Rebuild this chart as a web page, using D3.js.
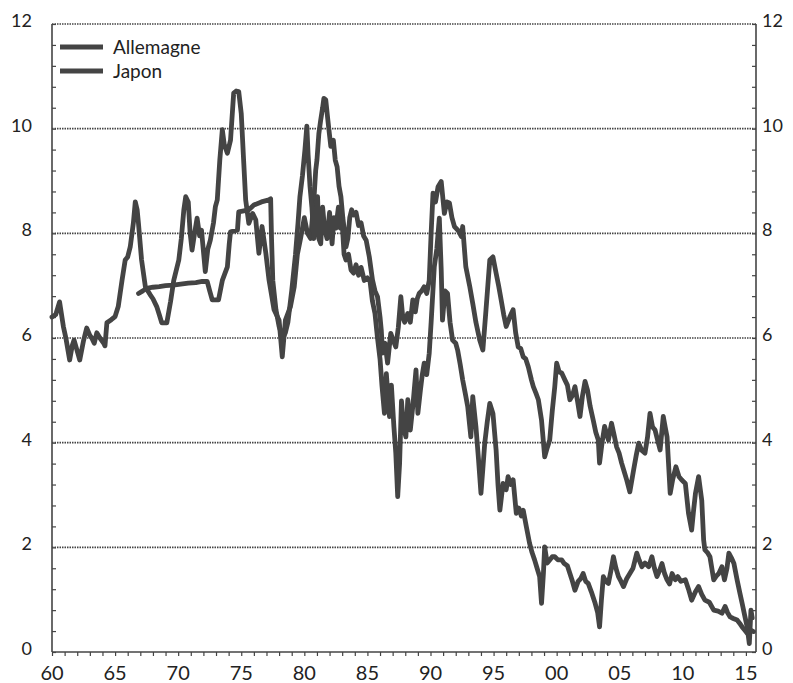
<!DOCTYPE html>
<html><head><meta charset="utf-8">
<script src="https://cdn.jsdelivr.net/npm/d3@7"></script>
<style>
html,body{margin:0;padding:0;background:#fff;}
svg text{font-family:'Liberation Sans Narrow','Arial Narrow',Lato,sans-serif;fill:#222;}
</style></head>
<body>
<svg id="chart" width="793" height="683"></svg>
<script>
// Series: [year, yield %]
const seriesNames = ["Allemagne", "Japon"];
const allemagne = [
[1960.0,6.40],[1960.3,6.45],[1960.6,6.69],[1960.9,6.22],[1961.1,6.0],[1961.4,5.58],[1961.6,5.85],[1961.75,5.96],
[1962.0,5.75],[1962.2,5.58],[1962.5,5.95],[1962.75,6.19],[1963.0,6.05],[1963.15,6.0],[1963.35,5.9],[1963.55,6.1],
[1963.8,6.0],[1964.1,5.9],[1964.2,5.85],[1964.35,6.29],[1964.7,6.35],[1965.0,6.41],[1965.25,6.6],[1965.55,7.1],
[1965.8,7.49],[1966.0,7.55],[1966.2,7.74],[1966.45,8.2],[1966.6,8.6],[1966.75,8.45],[1966.85,8.2],[1967.1,7.49],
[1967.4,6.98],[1967.6,6.9],[1967.8,6.82],[1968.0,6.75],[1968.3,6.6],[1968.5,6.45],[1968.7,6.29],[1969.1,6.29],
[1969.4,6.7],[1969.65,7.1],[1970.05,7.49],[1970.25,7.9],[1970.45,8.45],[1970.6,8.7],[1970.8,8.6],[1970.95,8.0],
[1971.1,7.68],[1971.3,8.0],[1971.5,8.29],[1971.7,7.95],[1971.85,8.06],[1972.15,7.27],[1972.35,7.7],[1972.55,7.87],
[1972.8,8.2],[1972.95,8.51],[1973.1,8.64],[1973.3,9.4],[1973.5,9.98],[1973.65,9.7],[1973.9,9.53],[1974.15,9.78],
[1974.4,10.68],[1974.6,10.72],[1974.8,10.71],[1975.0,10.29],[1975.2,9.34],[1975.35,8.64],[1975.6,8.19],[1975.9,8.38],
[1976.15,8.26],[1976.4,7.62],[1976.65,8.13],[1976.95,7.62],[1977.2,7.11],[1977.6,6.54],[1978.0,6.34],[1978.25,5.64],
[1978.5,6.34],[1978.9,6.6],[1979.2,6.98],[1979.45,7.6],[1979.7,7.9],[1980.0,8.3],[1980.25,8.0],[1980.5,7.9],
[1980.75,8.6],[1980.9,9.2],[1981.0,9.4],[1981.15,9.9],[1981.3,10.17],[1981.45,10.4],[1981.55,10.58],[1981.7,10.55],
[1981.85,10.2],[1981.95,9.98],[1982.1,9.66],[1982.3,9.78],[1982.45,9.4],[1982.6,9.27],[1982.75,8.9],[1982.9,8.7],
[1983.05,8.3],[1983.15,8.1],[1983.3,7.74],[1983.45,7.9],[1983.6,8.3],[1983.75,8.45],[1983.9,8.35],[1984.1,8.4],
[1984.3,8.15],[1984.5,8.2],[1984.7,7.95],[1984.9,7.87],[1985.15,7.55],[1985.4,7.11],[1985.6,6.9],[1985.8,6.79],
[1986.0,6.4],[1986.1,6.15],[1986.2,5.71],[1986.4,5.9],[1986.6,5.52],[1986.85,6.09],[1987.05,5.95],[1987.25,5.83],
[1987.45,6.2],[1987.65,6.79],[1987.8,6.4],[1987.95,6.3],[1988.2,6.47],[1988.4,6.3],[1988.6,6.73],[1988.8,6.5],
[1988.95,6.75],[1989.1,6.85],[1989.3,6.9],[1989.5,6.98],[1989.7,6.85],[1989.9,7.1],[1990.05,8.0],[1990.2,8.77],
[1990.4,8.6],[1990.6,8.89],[1990.85,8.99],[1991.1,8.38],[1991.3,8.6],[1991.5,8.58],[1991.7,8.3],[1991.9,8.13],
[1992.2,8.05],[1992.45,7.94],[1992.55,8.13],[1992.8,7.36],[1993.1,7.0],[1993.35,6.66],[1993.6,6.3],[1993.9,5.96],
[1994.15,5.77],[1994.4,6.54],[1994.7,7.49],[1994.95,7.55],[1995.2,7.24],[1995.4,7.0],[1995.6,6.73],[1995.8,6.45],
[1996.0,6.22],[1996.3,6.41],[1996.55,6.54],[1996.75,6.1],[1996.95,5.83],[1997.15,5.8],[1997.35,5.64],[1997.55,5.6],
[1997.75,5.45],[1998.0,5.2],[1998.15,5.07],[1998.35,4.95],[1998.55,4.82],[1998.8,4.43],[1999.05,3.73],[1999.25,3.9],
[1999.45,4.05],[1999.65,4.6],[1999.85,5.07],[2000.0,5.52],[2000.2,5.35],[2000.4,5.33],[2000.65,5.2],[2000.85,5.1],
[2001.05,4.82],[2001.25,4.9],[2001.45,5.07],[2001.65,4.8],[2001.85,4.5],[2002.05,4.9],[2002.25,5.17],[2002.45,5.0],
[2002.65,4.7],[2002.9,4.43],[2003.1,4.2],[2003.3,4.05],[2003.4,3.61],[2003.6,4.0],[2003.8,4.31],[2004.1,4.05],
[2004.35,4.37],[2004.55,4.15],[2004.75,3.92],[2004.95,3.8],[2005.15,3.61],[2005.35,3.45],[2005.55,3.29],[2005.8,3.06],
[2006.1,3.48],[2006.3,3.75],[2006.5,3.99],[2006.75,3.85],[2007.0,3.8],[2007.2,4.1],[2007.4,4.56],[2007.6,4.3],
[2007.8,4.24],[2008.0,4.05],[2008.2,3.86],[2008.45,4.5],[2008.6,4.3],[2008.75,4.11],[2009.0,3.03],[2009.2,3.3],
[2009.45,3.54],[2009.7,3.35],[2009.9,3.29],[2010.2,3.22],[2010.45,2.65],[2010.7,2.33],[2010.85,2.7],[2011.0,3.03],
[2011.25,3.35],[2011.5,2.9],[2011.65,2.14],[2011.75,1.95],[2011.95,1.9],[2012.15,1.82],[2012.3,1.6],[2012.45,1.38],
[2012.65,1.45],[2012.85,1.5],[2013.1,1.63],[2013.3,1.38],[2013.5,1.6],[2013.65,1.89],[2013.85,1.8],[2014.05,1.69],
[2014.3,1.38],[2014.5,1.15],[2014.7,0.93],[2014.9,0.7],[2015.1,0.48],[2015.27,0.16],[2015.4,0.8],[2015.5,0.65]
];
const japon = [
[1966.86,6.85],[1967.2,6.9],[1967.5,6.95],[1968.0,6.97],[1968.5,6.98],[1969.0,7.0],[1969.6,7.01],[1970.2,7.03],
[1970.8,7.05],[1971.4,7.06],[1971.9,7.08],[1972.3,7.08],[1972.5,6.9],[1972.7,6.73],[1973.2,6.73],[1973.5,7.1],
[1973.9,7.36],[1974.05,7.8],[1974.15,8.03],[1974.7,8.06],[1974.8,8.41],[1975.6,8.45],[1976.0,8.54],[1976.6,8.6],
[1977.2,8.64],[1977.33,8.66],[1977.4,7.9],[1977.5,7.1],[1977.75,6.54],[1978.0,6.22],[1978.3,6.0],[1978.5,6.1],
[1978.7,6.3],[1979.0,6.9],[1979.3,7.6],[1979.5,8.2],[1979.65,8.7],[1979.85,9.1],[1980.05,9.6],[1980.2,10.05],
[1980.3,9.5],[1980.45,8.9],[1980.6,8.5],[1980.75,7.9],[1980.9,8.3],[1981.05,8.7],[1981.15,7.9],[1981.3,7.8],
[1981.45,8.5],[1981.6,8.1],[1981.8,7.9],[1982.0,8.4],[1982.2,7.8],[1982.35,8.3],[1982.5,8.1],[1982.7,8.5],
[1982.85,8.1],[1983.0,8.2],[1983.15,7.6],[1983.3,7.49],[1983.5,7.6],[1983.7,7.3],[1983.9,7.24],[1984.1,7.4],
[1984.3,7.2],[1984.5,7.35],[1984.75,7.1],[1985.0,7.15],[1985.2,7.1],[1985.4,6.7],[1985.6,6.47],[1985.8,6.0],
[1986.0,5.6],[1986.15,5.1],[1986.35,4.56],[1986.5,5.32],[1986.75,4.5],[1986.9,5.1],[1987.1,4.3],[1987.25,3.8],
[1987.4,2.97],[1987.55,3.6],[1987.7,4.8],[1987.85,4.3],[1988.05,4.11],[1988.2,4.82],[1988.4,4.24],[1988.6,4.7],
[1988.85,5.39],[1989.0,4.56],[1989.2,5.0],[1989.35,5.3],[1989.5,5.52],[1989.7,5.3],[1989.9,5.71],[1990.05,6.3],
[1990.3,7.36],[1990.5,7.7],[1990.7,8.29],[1990.85,7.3],[1990.95,6.34],[1991.15,6.9],[1991.35,6.85],[1991.55,6.3],
[1991.75,5.96],[1992.0,5.9],[1992.15,5.77],[1992.35,5.5],[1992.55,5.2],[1992.75,4.95],[1992.95,4.69],[1993.2,4.11],
[1993.35,4.88],[1993.6,4.31],[1993.8,3.7],[1994.0,3.03],[1994.15,3.5],[1994.3,3.99],[1994.5,4.4],[1994.7,4.75],
[1994.95,4.56],[1995.2,3.86],[1995.35,3.2],[1995.5,2.71],[1995.75,3.22],[1996.0,3.1],[1996.15,3.35],[1996.35,3.2],
[1996.55,3.29],[1996.8,2.65],[1997.0,2.75],[1997.2,2.6],[1997.35,2.71],[1997.6,2.39],[1997.85,2.08],[1998.05,1.9],
[1998.25,1.76],[1998.45,1.6],[1998.65,1.44],[1998.8,0.93],[1998.95,1.5],[1999.05,2.01],[1999.25,1.7],[1999.45,1.76],
[1999.65,1.82],[1999.85,1.82],[2000.1,1.76],[2000.4,1.76],[2000.6,1.69],[2000.85,1.65],[2001.05,1.5],[2001.25,1.35],
[2001.45,1.18],[2001.7,1.35],[2001.9,1.4],[2002.1,1.5],[2002.3,1.35],[2002.5,1.31],[2002.75,1.15],[2003.05,0.93],
[2003.25,0.75],[2003.4,0.48],[2003.55,1.0],[2003.7,1.44],[2003.9,1.35],[2004.1,1.31],[2004.3,1.55],[2004.5,1.82],
[2004.7,1.6],[2004.9,1.44],[2005.1,1.35],[2005.3,1.25],[2005.55,1.4],[2005.8,1.5],[2006.05,1.6],[2006.35,1.89],
[2006.55,1.75],[2006.75,1.63],[2007.0,1.7],[2007.3,1.63],[2007.55,1.82],[2007.75,1.6],[2007.95,1.44],[2008.15,1.55],
[2008.35,1.69],[2008.55,1.5],[2008.75,1.38],[2008.95,1.3],[2009.15,1.5],[2009.4,1.38],[2009.6,1.44],[2009.85,1.35],
[2010.2,1.38],[2010.45,1.2],[2010.7,0.99],[2011.0,1.15],[2011.25,1.25],[2011.5,1.1],[2011.75,0.99],[2012.1,0.95],
[2012.45,0.8],[2012.8,0.78],[2013.1,0.74],[2013.35,0.87],[2013.55,0.75],[2013.75,0.67],[2014.0,0.64],[2014.3,0.61],
[2014.5,0.55],[2014.7,0.48],[2014.9,0.42],[2015.1,0.36],[2015.35,0.42],[2015.6,0.39]
];
const xTickYears = [1960,1965,1970,1975,1980,1985,1990,1995,2000,2005,2010,2015];
const xTickLabels = ["60","65","70","75","80","85","90","95","00","05","10","15"];
const yTickValues = [0,2,4,6,8,10,12];

const svg = d3.select("#chart");
const L = 52, R = 756, T = 24, B = 652;
const x = d3.scaleLinear().domain([1960, 2015.8]).range([L, R]);
const y = d3.scaleLinear().domain([0, 12]).range([B, T]);
const ink = "#444";

// gridlines (dotted)
svg.append("g").selectAll("line").data(yTickValues.filter(v => v > 0)).join("line")
  .attr("x1", L).attr("x2", R).attr("y1", d => y(d)).attr("y2", d => y(d))
  .attr("stroke", "#444").attr("stroke-width", 1.6).attr("stroke-dasharray", "1.5,1");

// left axis
const leftAxis = d3.axisLeft(y).tickValues(d3.range(0, 12.01, 0.4)).tickSize(-4).tickFormat("");
const gl = svg.append("g").attr("transform", `translate(${L},0)`).call(leftAxis);
// right axis
const rightAxis = d3.axisRight(y).tickValues(d3.range(0, 12.01, 0.4)).tickSize(-4).tickFormat("");
const gr = svg.append("g").attr("transform", `translate(${R},0)`).call(rightAxis);
// bottom axis
const bottomAxis = d3.axisBottom(x).tickValues(d3.range(1960, 2016, 1)).tickSize(4).tickFormat("");
const gb = svg.append("g").attr("transform", `translate(0,${B})`).call(bottomAxis);
[gl, gr, gb].forEach(g => {
  g.select(".domain").attr("stroke", "#444").attr("stroke-width", 1.6);
  g.selectAll(".tick line").attr("stroke", "#444").attr("stroke-width", 1.2);
});
gl.select(".domain").attr("d", `M0,${B}V${T}`);
gr.select(".domain").attr("d", `M0,${B}V${T}`);
gb.select(".domain").attr("d", `M${L},0H${R}`);

// y labels
svg.append("g").selectAll("text").data(yTickValues).join("text")
  .attr("x", 32).attr("y", d => y(d) + 3).attr("text-anchor", "end")
  .attr("font-size", 18).text(d => d);
svg.append("g").selectAll("text").data(yTickValues).join("text")
  .attr("x", 762).attr("y", d => y(d) + 3).attr("text-anchor", "start")
  .attr("font-size", 18).text(d => d);
// x labels
svg.append("g").selectAll("text").data(xTickYears).join("text")
  .attr("x", d => x(d)).attr("y", 680).attr("text-anchor", "middle")
  .attr("font-size", 20).text((d, i) => xTickLabels[i]);

// lines
const line = d3.line().x(d => x(d[0])).y(d => y(d[1]));
[allemagne, japon].forEach(s => {
  svg.append("path").datum(s).attr("d", line).attr("fill", "none")
    .attr("stroke", ink).attr("stroke-width", 4.8)
    .attr("stroke-linejoin", "round").attr("stroke-linecap", "round");
});

// legend
const lg = svg.append("g");
seriesNames.forEach((n, i) => {
  const ly = 47 + i * 24;
  lg.append("line").attr("x1", 60).attr("x2", 103).attr("y1", ly).attr("y2", ly)
    .attr("stroke", ink).attr("stroke-width", 4.8);
  lg.append("text").attr("x", 113).attr("y", ly + 6.5).attr("font-size", 19).text(n);
});
</script>
</body></html>
